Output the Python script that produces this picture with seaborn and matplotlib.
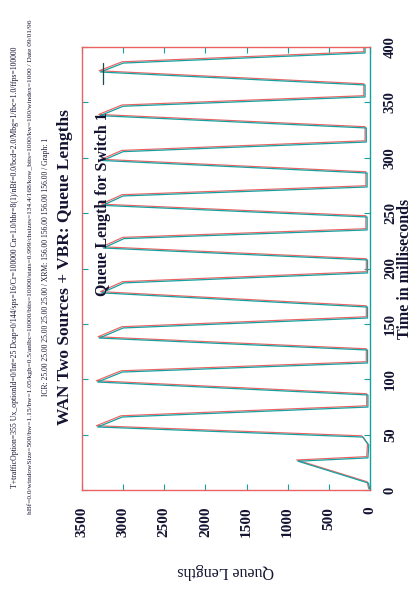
import matplotlib
matplotlib.use("Agg")
import matplotlib.pyplot as plt
import matplotlib.transforms as mtransforms
import seaborn as sns
import pandas as pd

# ---------------- data ----------------
time_ms = [0, 6.3, 26.0, 29.0, 40.6, 47.8,
           56.9, 65.9, 74.9, 85.8,
           97.5, 106.5, 114.7, 126.4,
           137.2, 146.3, 155.3, 165.2,
           178.0, 187.0, 196.0, 207.7,
           218.5, 227.0, 234.8, 246.5,
           257.0, 265.5, 273.6, 286.2,
           297.5, 305.5, 314.2, 326.9,
           338.0, 346.5, 354.9, 365.7,
           377.4, 385.5, 394.6, 400.0]
queue_len = [0, 20, 875, 25, 15, 85,
             3310, 3010, 25, 25,
             3310, 3010, 30, 30,
             3290, 3000, 30, 30,
             3260, 2990, 30, 30,
             3240, 2990, 35, 35,
             3250, 3000, 35, 35,
             3250, 3000, 45, 45,
             3280, 3000, 60, 60,
             3277, 2998, 60, 60]

cursor_queue = [3250, 3250]
cursor_time = [367, 386]

queue_ticks = [0, 500, 1000, 1500, 2000, 2500, 3000, 3500]
time_ticks = [0, 50, 100, 150, 200, 250, 300, 350, 400]

title = "WAN Two Sources + VBR: Queue Lengths"
subtitle = "Queue Length for Switch 1"
header_lines = [
    "T+trafficOption=355 Ux_optionId=0/Int=25 Dcap=0/144/sps=16/Cr=100000 Cn=1.0/hbr=8(1)/nBf=0.0/bcd=2.0/Mbg=1/fbc=1.0/ffps=100000",
    "hBf=0.0/windowSize=500/hw=1.15/bw=1.05/kgh=0.5/anlbc=10000/bits=10000/stats=0.999/chsizes=134.4/168/kow_bits=1000/kw=100/windex=1000 / Date 09/01/96",
    "ICR: 25.00 25.00 25.00 25.00 25.00 / XRM: 156.00 156.00 156.00 156.00 / Graph: 1",
]

df = pd.DataFrame({"queue": queue_len, "time": time_ms})
cursor_df = pd.DataFrame({"queue": cursor_queue, "time": cursor_time})

# ---------------- style ----------------
sns.set_theme(style="white")
plt.rcParams["font.family"] = ["Liberation Serif", "DejaVu Serif"]

TEAL = "#17a0a0"
RED = "#ea6262"
INK = "#141432"

fig = plt.figure(figsize=(4.12, 5.90), dpi=100)
W, H = 412, 590
L, R, T, B = 82, 370, 47, 490
ax = fig.add_axes([L / W, 1 - B / H, (R - L) / W, (B - T) / H])

shift = mtransforms.ScaledTranslation(-0.9 / 72, 0.9 / 72, fig.dpi_scale_trans)

# red fringe line then teal line
sns.lineplot(data=df, x="queue", y="time", sort=False, estimator=None,
             color=RED, linewidth=0.85, ax=ax, orient="y")
ax.lines[-1].set_transform(ax.transData + shift)
sns.lineplot(data=df, x="queue", y="time", sort=False, estimator=None,
             color=TEAL, linewidth=0.9, ax=ax, orient="y")
sns.lineplot(data=cursor_df, x="queue", y="time", sort=False, estimator=None,
             color="#1a4a4a", linewidth=0.9, ax=ax, orient="y")

ax.set_xlim(3500, 0)
ax.set_ylim(0, 400)
ax.set_xticks(queue_ticks)
ax.set_yticks(time_ticks)
ax.set_xticklabels([str(v) for v in queue_ticks], rotation=90,
                   fontsize=11, fontweight="bold", color=INK)
ax.set_yticklabels([str(v) for v in time_ticks], rotation=90,
                   fontsize=10.5, fontweight="bold", color=INK)
ax.tick_params(axis="both", direction="in", length=4, width=0.8, color=TEAL,
               top=True, bottom=True, left=True, right=True,
               labelleft=False, labelright=True, labelbottom=True, labeltop=False)
ax.tick_params(axis="x", pad=12)
ax.tick_params(axis="y", pad=10)
for lab in ax.get_yticklabels():
    lab.set_verticalalignment("center")

for name, sp in ax.spines.items():
    sp.set_visible(True)
    sp.set_linewidth(1.0)
    sp.set_color(TEAL if name == "right" else RED)

ax.set_xlabel("Queue Lengths", fontsize=11.5, color=INK, rotation=180)
ax.xaxis.set_label_coords(0.5, -(571 - B) / (B - T))
ax.xaxis.label.set_verticalalignment("center")
ax.set_ylabel("Time in milliseconds", fontsize=11.5, fontweight="bold", color=INK,
              rotation=90)
ax.yaxis.set_label_position("right")
ax.yaxis.set_label_coords((405 - L) / (R - L), 0.5)
ax.yaxis.label.set_verticalalignment("center")
ax.yaxis.label.set_horizontalalignment("center")
ax.yaxis.label.set_rotation_mode("default")

ax.text(3250, 258, subtitle, rotation=90, ha="center", va="center",
        fontsize=11.5, fontweight="bold", color=INK)

fig.text(65 / W, 1 - 267 / H, title, rotation=90, ha="center", va="center",
         fontsize=12.5, fontweight="bold", color=INK)

for xpix, txt, fs in zip([15, 30, 46], header_lines, [5.6, 5.3, 5.5]):
    fig.text(xpix / W, 1 - 267 / H, txt, rotation=90, ha="center", va="center",
             fontsize=fs, color=INK)

fig.savefig("out.png", dpi=100, facecolor="white")
